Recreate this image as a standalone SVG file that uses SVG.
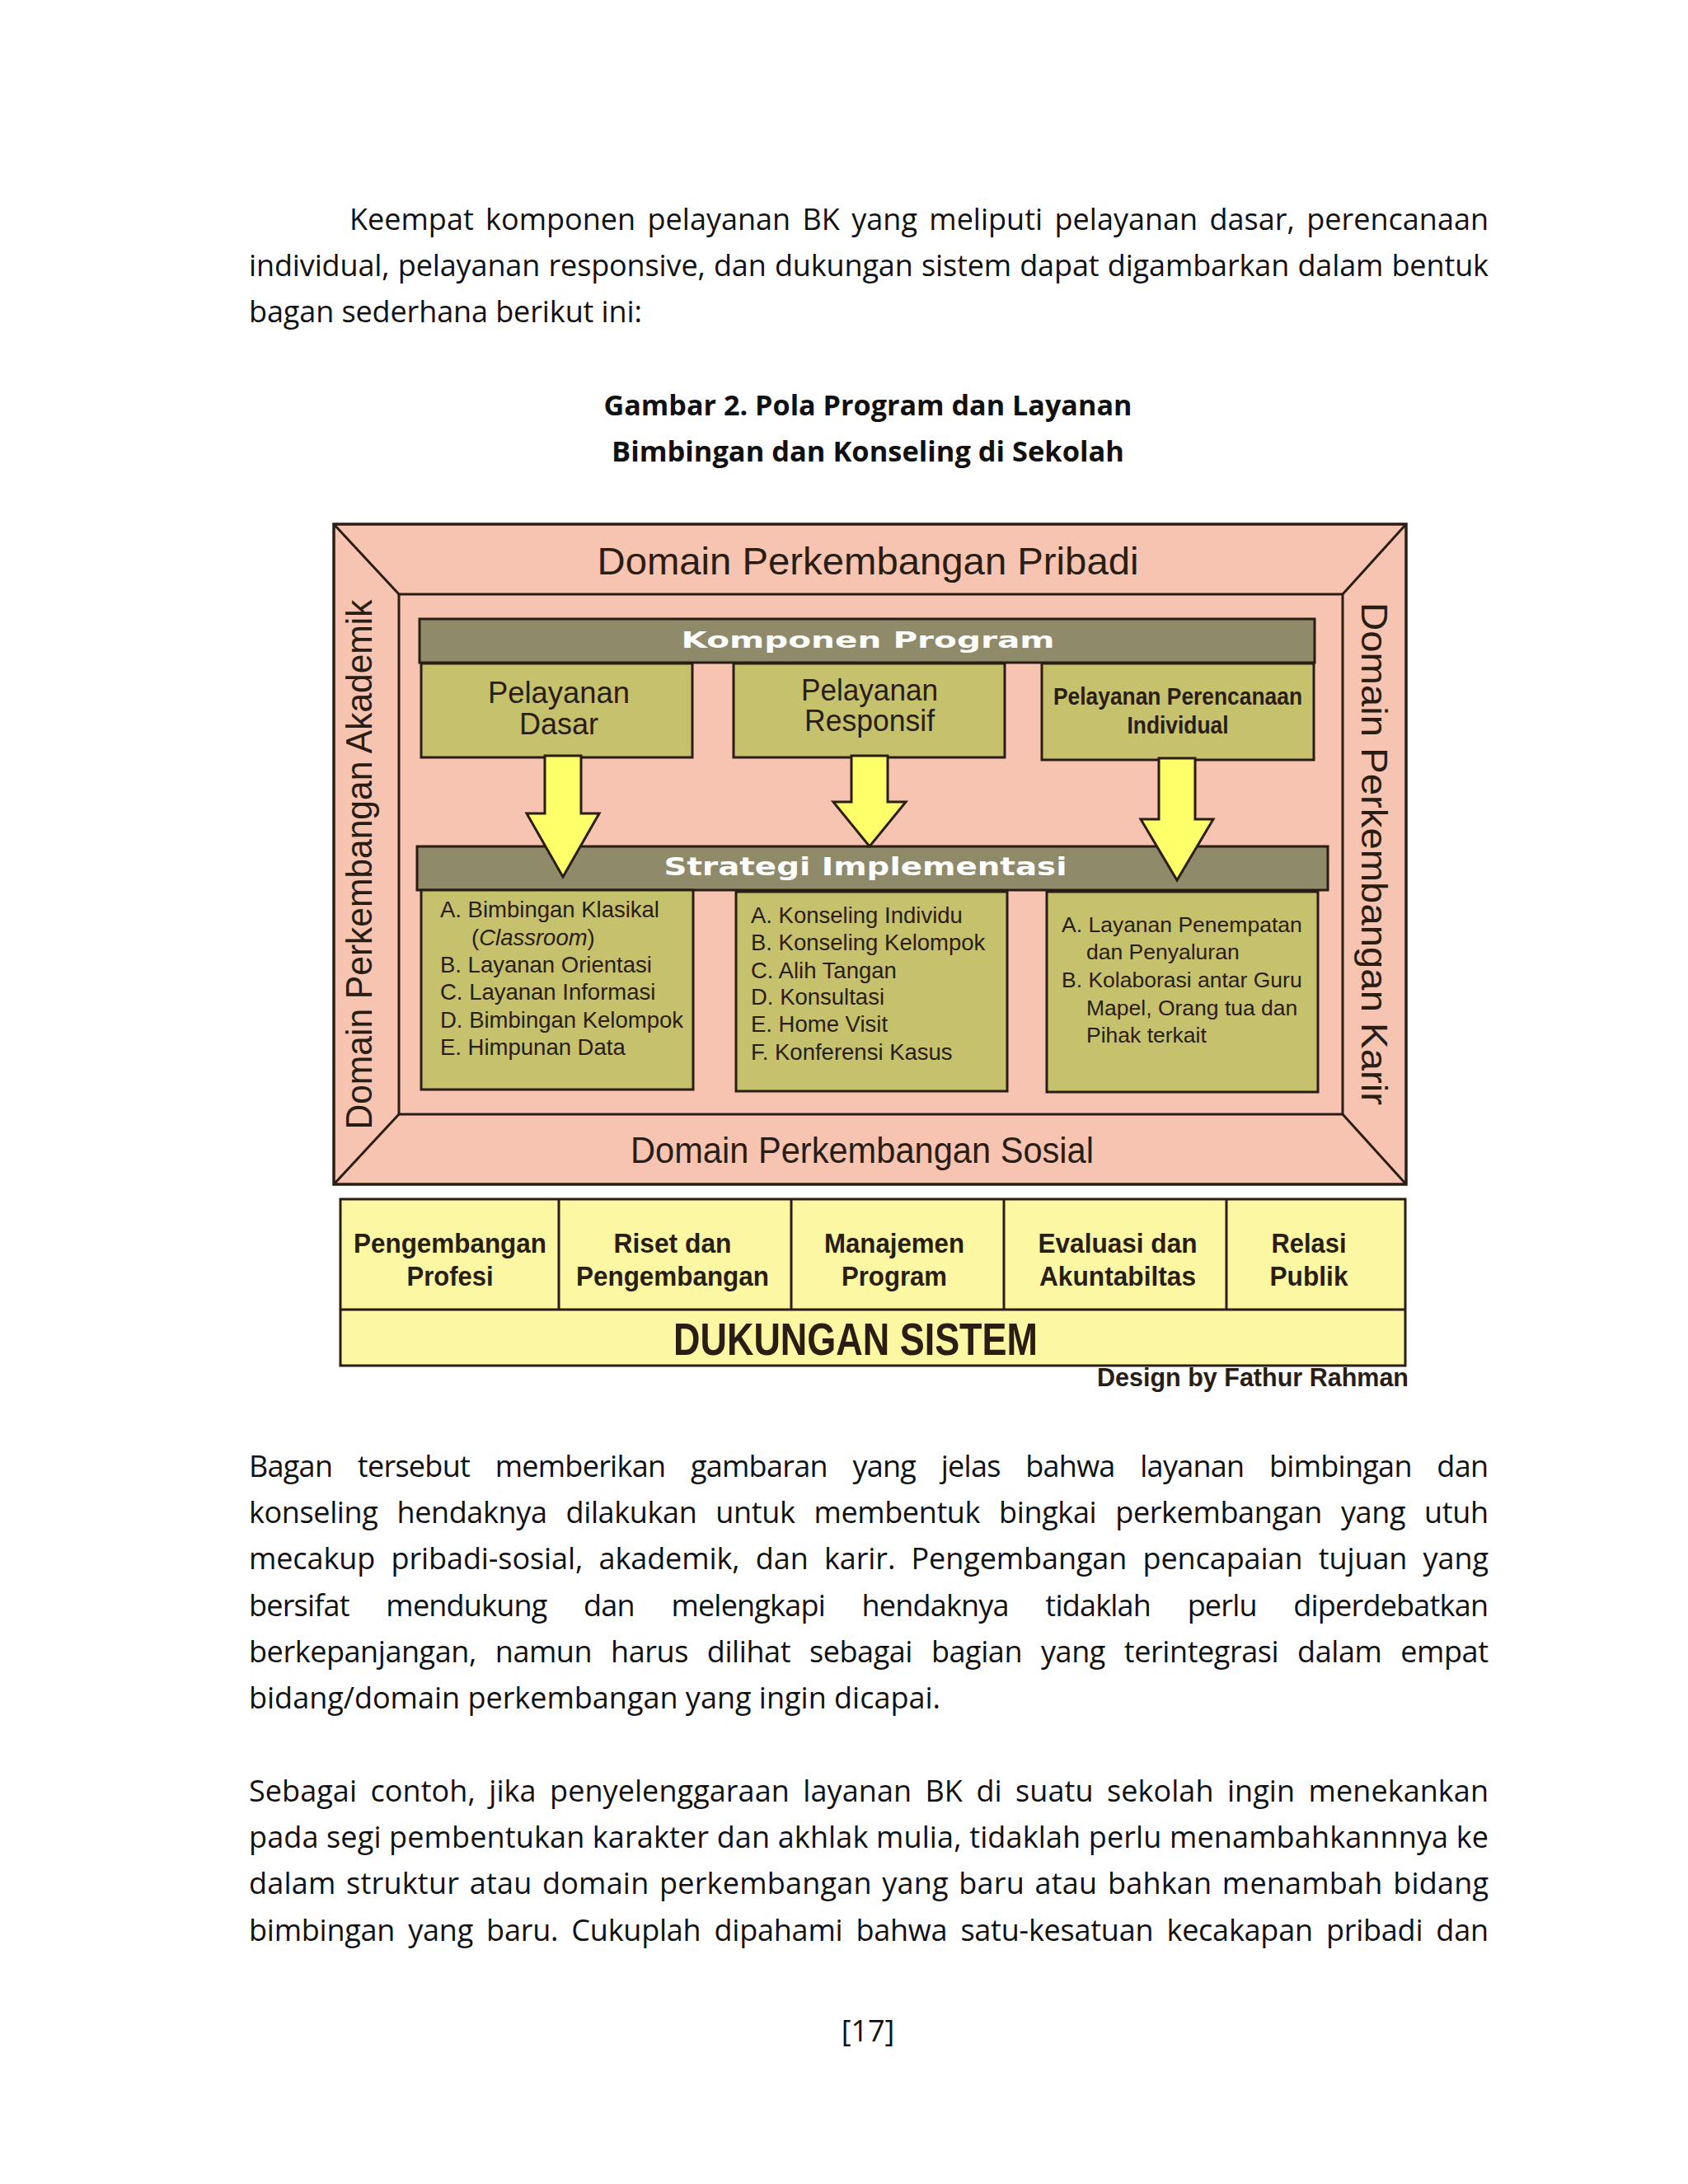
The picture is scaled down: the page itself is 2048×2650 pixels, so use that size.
<svg xmlns="http://www.w3.org/2000/svg" width="2048" height="2650" viewBox="0 0 2048 2650">
<style>
.body{font-family:"Open Sans","Noto Sans",sans-serif;font-size:36px;fill:#111}
.title{font-family:"Open Sans","Noto Sans",sans-serif;font-size:34px;font-weight:bold;fill:#111}
.dm{font-family:"Liberation Sans",Arial,sans-serif;fill:#2a1d14}
.frame{fill:#F7C4B1;stroke:#2a1d14;stroke-width:3.5;stroke-linejoin:miter}
.ln{stroke:#2a1d14;stroke-width:3;fill:none}
.bar{fill:#8E8A6A;stroke:#2a1d14;stroke-width:3}
.box{fill:#C6C16D;stroke:#2a1d14;stroke-width:3}
.arrow{fill:#FFFF6A;stroke:#2a1d14;stroke-width:3;stroke-linejoin:miter}
.ds{fill:#FBF7A3;stroke:#2a1d14;stroke-width:3}
.wt{font-family:"DejaVu Sans","Liberation Sans",sans-serif;font-weight:bold;fill:#fff}
.li{font-size:27.5px}
.cell{font-size:33px;font-weight:bold;text-anchor:middle}
</style>

<g id="paragraph-top" class="body">
<text x="424" y="279" word-spacing="5" textLength="1382" lengthAdjust="spacing">Keempat komponen pelayanan BK yang meliputi pelayanan dasar, perencanaan</text>
<text x="302" y="335" word-spacing="1" textLength="1504" lengthAdjust="spacing">individual, pelayanan responsive, dan dukungan sistem dapat digambarkan dalam bentuk</text>
<text x="302" y="391" textLength="477" lengthAdjust="spacing">bagan sederhana berikut ini:</text>
</g>

<g id="caption" class="title" text-anchor="middle">
<text x="1053" y="504" textLength="641" lengthAdjust="spacingAndGlyphs">Gambar 2. Pola Program dan Layanan</text>
<text x="1053" y="560" textLength="622" lengthAdjust="spacingAndGlyphs">Bimbingan dan Konseling di Sekolah</text>
</g>

<g id="domain-frame">
<rect class="frame" x="405" y="636" width="1301" height="801"/>
<rect class="ln" x="484" y="721" width="1145" height="631"/>
<line class="ln" x1="405" y1="636" x2="484" y2="721"/>
<line class="ln" x1="1706" y1="636" x2="1629" y2="721"/>
<line class="ln" x1="405" y1="1437" x2="484" y2="1352"/>
<line class="ln" x1="1706" y1="1437" x2="1629" y2="1352"/>
</g>
<g id="domain-pribadi"><text class="dm" x="1053" y="697" font-size="47" text-anchor="middle" textLength="657" lengthAdjust="spacingAndGlyphs">Domain Perkembangan Pribadi</text></g>
<g id="domain-sosial"><text class="dm" x="1046" y="1411" font-size="44" text-anchor="middle" textLength="562" lengthAdjust="spacingAndGlyphs">Domain Perkembangan Sosial</text></g>
<g id="domain-akademik"><text class="dm" transform="translate(451,1049) rotate(-90)" font-size="44" text-anchor="middle" textLength="643" lengthAdjust="spacingAndGlyphs">Domain Perkembangan Akademik</text></g>
<g id="domain-karir"><text class="dm" transform="translate(1652,1036) rotate(90)" font-size="45" text-anchor="middle" textLength="610" lengthAdjust="spacingAndGlyphs">Domain Perkembangan Karir</text></g>

<g id="komponen-program">
<rect class="bar" x="509" y="751" width="1086" height="53"/>
<text class="wt" x="1053" y="786" font-size="27" text-anchor="middle" textLength="453" lengthAdjust="spacingAndGlyphs">Komponen Program</text>
</g>
<g id="pelayanan-dasar">
<rect class="box" x="511" y="805" width="329" height="114"/>
<text class="dm" font-size="37" text-anchor="middle"><tspan x="678" y="853" textLength="172" lengthAdjust="spacingAndGlyphs">Pelayanan</tspan><tspan x="678" y="891" textLength="96" lengthAdjust="spacingAndGlyphs">Dasar</tspan></text>
</g>
<g id="pelayanan-responsif">
<rect class="box" x="890" y="805" width="329" height="114"/>
<text class="dm" font-size="37" text-anchor="middle"><tspan x="1055" y="850" textLength="166" lengthAdjust="spacingAndGlyphs">Pelayanan</tspan><tspan x="1055" y="887" textLength="158" lengthAdjust="spacingAndGlyphs">Responsif</tspan></text>
</g>
<g id="pelayanan-perencanaan">
<rect class="box" x="1264" y="805" width="330" height="117"/>
<text class="dm" font-size="29" font-weight="bold" text-anchor="middle"><tspan x="1429" y="855" textLength="302" lengthAdjust="spacingAndGlyphs">Pelayanan Perencanaan</tspan><tspan x="1429" y="890" textLength="123" lengthAdjust="spacingAndGlyphs">Individual</tspan></text>
</g>

<g id="strategi-implementasi">
<rect class="bar" x="506" y="1027" width="1105" height="53"/>
<text class="wt" x="1050" y="1062" font-size="30" text-anchor="middle" textLength="489" lengthAdjust="spacingAndGlyphs">Strategi Implementasi</text>
</g>
<g id="strategi-dasar">
<rect class="box" x="511" y="1080" width="330" height="242"/>
<text class="dm li"><tspan x="534" y="1113">A. Bimbingan Klasikal</tspan><tspan x="572" y="1147">(<tspan font-style="italic">Classroom</tspan>)</tspan><tspan x="534" y="1180">B. Layanan Orientasi</tspan><tspan x="534" y="1213">C. Layanan Informasi</tspan><tspan x="534" y="1247">D. Bimbingan Kelompok</tspan><tspan x="534" y="1280">E. Himpunan Data</tspan></text>
</g>
<g id="strategi-responsif">
<rect class="box" x="893" y="1082" width="329" height="242"/>
<text class="dm li"><tspan x="911" y="1120">A. Konseling Individu</tspan><tspan x="911" y="1153">B. Konseling Kelompok</tspan><tspan x="911" y="1187">C. Alih Tangan</tspan><tspan x="911" y="1219">D. Konsultasi</tspan><tspan x="911" y="1252">E. Home Visit</tspan><tspan x="911" y="1286">F. Konferensi Kasus</tspan></text>
</g>
<g id="strategi-perencanaan">
<rect class="box" x="1270" y="1082" width="329" height="243"/>
<text class="dm" font-size="26.5"><tspan x="1288" y="1131">A. Layanan Penempatan</tspan><tspan x="1318" y="1164">dan Penyaluran</tspan><tspan x="1288" y="1198">B. Kolaborasi antar Guru</tspan><tspan x="1318" y="1232">Mapel, Orang tua dan</tspan><tspan x="1318" y="1265">Pihak terkait</tspan></text>
</g>

<g id="connectors">
<polygon class="arrow" points="661,917 705,917 705,987 727,987 683,1064 639,987 661,987"/>
<polygon class="arrow" points="1033,917 1077,917 1077,973 1099,973 1055,1027 1011,973 1033,973"/>
<polygon class="arrow" points="1406,920 1450,920 1450,994 1472,994 1428,1068 1384,994 1406,994"/>
</g>

<g id="dukungan-sistem">
<rect class="ds" x="413" y="1455" width="1292" height="202"/>
<line class="ln" x1="413" y1="1589" x2="1705" y2="1589"/>
<line class="ln" x1="678" y1="1455" x2="678" y2="1589"/>
<line class="ln" x1="960" y1="1455" x2="960" y2="1589"/>
<line class="ln" x1="1218" y1="1455" x2="1218" y2="1589"/>
<line class="ln" x1="1488" y1="1455" x2="1488" y2="1589"/>
<text class="dm" x="1038" y="1644" font-size="56" font-weight="bold" text-anchor="middle" textLength="442" lengthAdjust="spacingAndGlyphs">DUKUNGAN SISTEM</text>
</g>
<g id="pengembangan-profesi"><text class="dm cell"><tspan x="546" y="1520" textLength="234" lengthAdjust="spacingAndGlyphs">Pengembangan</tspan><tspan x="546" y="1560" textLength="105" lengthAdjust="spacingAndGlyphs">Profesi</tspan></text></g>
<g id="riset-pengembangan"><text class="dm cell"><tspan x="816" y="1520" textLength="143" lengthAdjust="spacingAndGlyphs">Riset dan</tspan><tspan x="816" y="1560" textLength="234" lengthAdjust="spacingAndGlyphs">Pengembangan</tspan></text></g>
<g id="manajemen-program"><text class="dm cell"><tspan x="1085" y="1520" textLength="170" lengthAdjust="spacingAndGlyphs">Manajemen</tspan><tspan x="1085" y="1560" textLength="128" lengthAdjust="spacingAndGlyphs">Program</tspan></text></g>
<g id="evaluasi-akuntabilitas"><text class="dm cell"><tspan x="1356" y="1520" textLength="193" lengthAdjust="spacingAndGlyphs">Evaluasi dan</tspan><tspan x="1356" y="1560" textLength="190" lengthAdjust="spacingAndGlyphs">Akuntabiltas</tspan></text></g>
<g id="relasi-publik"><text class="dm cell"><tspan x="1588" y="1520" textLength="91" lengthAdjust="spacingAndGlyphs">Relasi</tspan><tspan x="1588" y="1560" textLength="95" lengthAdjust="spacingAndGlyphs">Publik</tspan></text></g>
<g id="credit"><text class="dm" x="1709" y="1682" font-size="31" font-weight="bold" text-anchor="end" textLength="378" lengthAdjust="spacingAndGlyphs">Design by Fathur Rahman</text></g>

<g id="paragraph-2" class="body">
<text x="302" y="1792" word-spacing="22" textLength="1504" lengthAdjust="spacing">Bagan tersebut memberikan gambaran yang jelas bahwa layanan bimbingan dan</text>
<text x="302" y="1848" word-spacing="14" textLength="1504" lengthAdjust="spacing">konseling hendaknya dilakukan untuk membentuk bingkai perkembangan yang utuh</text>
<text x="302" y="1904" word-spacing="10" textLength="1504" lengthAdjust="spacing">mecakup pribadi-sosial, akademik, dan karir. Pengembangan pencapaian tujuan yang</text>
<text x="302" y="1961" word-spacing="36" textLength="1504" lengthAdjust="spacing">bersifat mendukung dan melengkapi hendaknya tidaklah perlu diperdebatkan</text>
<text x="302" y="2017" word-spacing="14" textLength="1504" lengthAdjust="spacing">berkepanjangan, namun harus dilihat sebagai bagian yang terintegrasi dalam empat</text>
<text x="302" y="2073" textLength="839" lengthAdjust="spacing">bidang/domain perkembangan yang ingin dicapai.</text>
</g>

<g id="paragraph-3" class="body">
<text x="302" y="2186" word-spacing="7" textLength="1504" lengthAdjust="spacing">Sebagai contoh, jika penyelenggaraan layanan BK di suatu sekolah ingin menekankan</text>
<text x="302" y="2242" word-spacing="0" textLength="1504" lengthAdjust="spacing">pada segi pembentukan karakter dan akhlak mulia, tidaklah perlu menambahkannnya ke</text>
<text x="302" y="2298" word-spacing="3" textLength="1504" lengthAdjust="spacing">dalam struktur atau domain perkembangan yang baru atau bahkan menambah bidang</text>
<text x="302" y="2355" word-spacing="7" textLength="1504" lengthAdjust="spacing">bimbingan yang baru. Cukuplah dipahami bahwa satu-kesatuan kecakapan pribadi dan</text>
</g>

<g id="page-number"><text class="body" x="1053" y="2477" font-size="33" text-anchor="middle">[17]</text></g>
</svg>
